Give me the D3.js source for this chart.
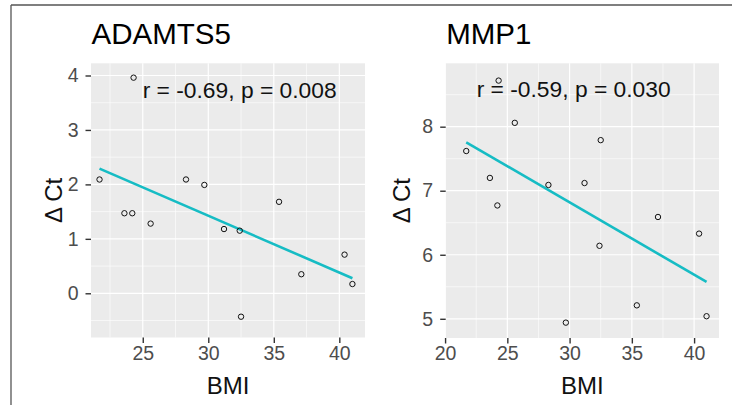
<!DOCTYPE html>
<html>
<head>
<meta charset="utf-8">
<script src="https://cdn.jsdelivr.net/npm/d3@7"></script>
<style>
  html, body { margin: 0; padding: 0; background: #fff; }
  svg { display: block; }
  text { font-family: "Liberation Sans", Arial, Helvetica, sans-serif; }
</style>
</head>
<body>
<svg id="chart" width="732" height="405"></svg>
<script>
// ---- data ----
const bmi = [21.7, 23.6, 24.2, 24.3, 25.6, 28.3, 29.7, 31.2, 32.4, 32.5, 35.4, 37.1, 40.4, 41.0];
const adamts5 = [2.09, 1.47, 1.47, 3.96, 1.28, 2.09, 1.99, 1.18, 1.15, -0.43, 1.68, 0.35, 0.71, 0.17];
const mmp1 = [7.62, 7.20, 6.77, 8.72, 8.06, 7.09, 4.94, 7.12, 6.14, 7.79, 5.21, 6.59, 6.33, 5.04];
const panelTitles = ["ADAMTS5", "MMP1"];
const corLabels = ["r = -0.69, p = 0.008", "r = -0.59, p = 0.030"];
const xTicksA = [25, 30, 35, 40];
const xTicksB = [20, 25, 30, 35, 40];
const yTicksA = [0, 1, 2, 3, 4];
const yTicksB = [5, 6, 7, 8];
const xLabel = "BMI";
const yLabel = "\u0394 Ct";

const svg = d3.select("#chart");

// outer frame (top and left edges visible)
svg.append("line").attr("x1", 11).attr("x2", 732).attr("y1", 5).attr("y2", 5)
  .attr("stroke", "#555").attr("stroke-width", 1.3);
svg.append("line").attr("x1", 11).attr("x2", 11).attr("y1", 5).attr("y2", 405)
  .attr("stroke", "#555").attr("stroke-width", 1.3);

const panels = [
  { title: panelTitles[0], ys: adamts5, label: corLabels[0], xt: xTicksA, yt: yTicksA,
    x0: 91, x1: 365, y0: 63.3, y1: 337.5, xd: [21.05, 41.96], yd: [-0.812, 4.224],
    labX: 142.7, labY: 97.7, yTitleX: 61.5 },
  { title: panelTitles[1], ys: mmp1, label: corLabels[1], xt: xTicksB, yt: yTicksB,
    x0: 445.7, x1: 719, y0: 63.3, y1: 338, xd: [20.05, 42.0], yd: [4.70, 8.99],
    labX: 476.7, labY: 96.7, yTitleX: 410 }
];

function linreg(xs, ys) {
  const mx = d3.mean(xs), my = d3.mean(ys);
  let sxy = 0, sxx = 0;
  xs.forEach((x, i) => { sxy += (x - mx) * (ys[i] - my); sxx += (x - mx) * (x - mx); });
  const b = sxy / sxx;
  return { a: my - b * mx, b };
}

panels.forEach(p => {
  const x = d3.scaleLinear().domain(p.xd).range([p.x0, p.x1]);
  const y = d3.scaleLinear().domain(p.yd).range([p.y1, p.y0]);
  const g = svg.append("g");

  // panel background
  g.append("rect").attr("x", p.x0).attr("y", p.y0)
    .attr("width", p.x1 - p.x0).attr("height", p.y1 - p.y0).attr("fill", "#EBEBEB");

  // minor grid
  const xMinor = p.xt.map(t => t - 2.5).concat([p.xt[p.xt.length - 1] + 2.5])
    .filter(v => v > p.xd[0] && v < p.xd[1]);
  const yMinor = p.yt.map(t => t - 0.5).concat([p.yt[p.yt.length - 1] + 0.5])
    .filter(v => v > p.yd[0] && v < p.yd[1]);
  g.selectAll(null).data(xMinor).enter().append("line")
    .attr("x1", d => x(d)).attr("x2", d => x(d)).attr("y1", p.y0).attr("y2", p.y1)
    .attr("stroke", "#fff").attr("stroke-width", 0.6);
  g.selectAll(null).data(yMinor).enter().append("line")
    .attr("y1", d => y(d)).attr("y2", d => y(d)).attr("x1", p.x0).attr("x2", p.x1)
    .attr("stroke", "#fff").attr("stroke-width", 0.6);
  // major grid
  g.selectAll(null).data(p.xt).enter().append("line")
    .attr("x1", d => x(d)).attr("x2", d => x(d)).attr("y1", p.y0).attr("y2", p.y1)
    .attr("stroke", "#fff").attr("stroke-width", 1.2);
  g.selectAll(null).data(p.yt).enter().append("line")
    .attr("y1", d => y(d)).attr("y2", d => y(d)).attr("x1", p.x0).attr("x2", p.x1)
    .attr("stroke", "#fff").attr("stroke-width", 1.2);

  // axes
  const xAxis = d3.axisBottom(x).tickValues(p.xt).tickFormat(d3.format("d")).tickSize(5.5).tickPadding(3);
  const yAxis = d3.axisLeft(y).tickValues(p.yt).tickFormat(d3.format("d")).tickSize(5.5).tickPadding(7);
  const gx = g.append("g").attr("transform", `translate(0,${p.y1})`).call(xAxis);
  const gy = g.append("g").attr("transform", `translate(${p.x0},0)`).call(yAxis);
  [gx, gy].forEach(ax => {
    ax.select(".domain").remove();
    ax.selectAll(".tick line").attr("stroke", "#333").attr("stroke-width", 1.4);
    ax.selectAll(".tick text").attr("fill", "#4D4D4D").style("font-size", "19.5px")
      .style("font-family", '"Liberation Sans", Arial, sans-serif');
  });
  gx.selectAll(".tick text").attr("dy", "0.71em");

  // regression line
  const fit = linreg(bmi, p.ys);
  const ext = d3.extent(bmi);
  g.append("line")
    .attr("x1", x(ext[0])).attr("y1", y(fit.a + fit.b * ext[0]))
    .attr("x2", x(ext[1])).attr("y2", y(fit.a + fit.b * ext[1]))
    .attr("stroke", "#16BCC4").attr("stroke-width", 2.6);

  // points
  g.selectAll(null).data(bmi.map((b, i) => [b, p.ys[i]])).enter().append("circle")
    .attr("cx", d => x(d[0])).attr("cy", d => y(d[1])).attr("r", 2.7)
    .attr("fill", "none").attr("stroke", "#111").attr("stroke-width", 1);

  // correlation label
  g.append("text").attr("x", p.labX).attr("y", p.labY)
    .style("font-size", "22.8px").attr("fill", "#111").text(p.label);

  // title
  g.append("text").attr("x", p.x0 + 0.5).attr("y", 44)
    .style("font-size", "29.5px").attr("fill", "#000").text(p.title);

  // axis titles
  g.append("text").attr("x", (p.x0 + p.x1) / 2).attr("y", 394.3)
    .attr("text-anchor", "middle").style("font-size", "24px").attr("fill", "#111").text(xLabel);
  g.append("text")
    .attr("transform", `translate(${p.yTitleX},${(p.y0 + p.y1) / 2}) rotate(-90)`)
    .attr("text-anchor", "middle").style("font-size", "24px").attr("fill", "#111").text(yLabel);
});
</script>
</body>
</html>
